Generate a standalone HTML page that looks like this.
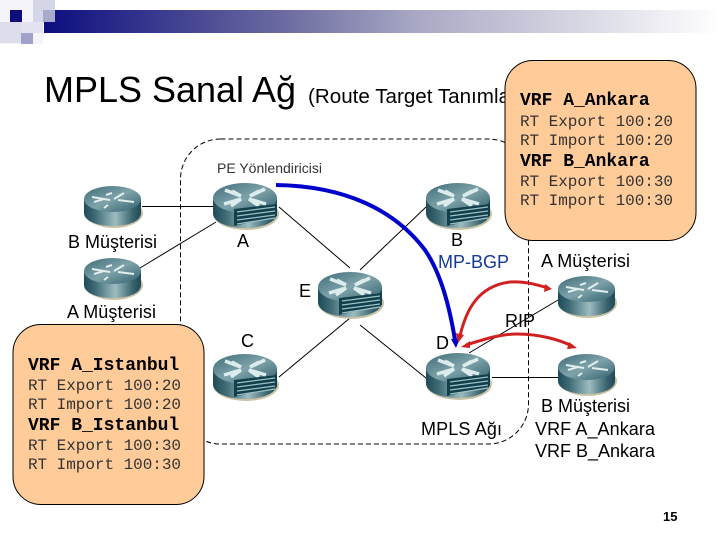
<!DOCTYPE html>
<html><head><meta charset="utf-8"><style>
html,body{margin:0;padding:0;background:#fff}
svg{display:block}
text{font-family:"Liberation Sans",sans-serif;fill:#000}
.m{font-family:"Liberation Mono",monospace;font-size:16px;fill:#333}
.b{font-family:"Liberation Mono",monospace;font-size:18px;font-weight:bold;fill:#000}
.l{font-size:18px}
</style></head><body>
<svg width="720" height="540" viewBox="0 0 720 540" xmlns="http://www.w3.org/2000/svg">
<defs>
<linearGradient id="bar"><stop offset="0" stop-color="#0d0d80"/><stop offset=".35" stop-color="#6a6aa0"/><stop offset=".55" stop-color="#a8a8c4"/><stop offset="1" stop-color="#fff"/></linearGradient>
<linearGradient id="body"><stop offset="0" stop-color="#1f4b58"/><stop offset=".2" stop-color="#3f6b76"/><stop offset=".55" stop-color="#9dbcc0"/><stop offset=".85" stop-color="#3a6570"/><stop offset="1" stop-color="#1e4955"/></linearGradient>
<linearGradient id="top" x1="0" y1="0" x2="1" y2="1"><stop offset="0" stop-color="#3d6b78"/><stop offset=".5" stop-color="#7fa3aa"/><stop offset="1" stop-color="#2f5f6c"/></linearGradient>
<g id="r1">
<ellipse cx="30" cy="27" rx="29" ry="15" fill="#c9c2a4"/>
<path d="M0 13V27C0 35 13 40 29 40S57 35 57 27V13Z" fill="url(#body)"/>
<ellipse cx="28.500" cy="13" rx="28.500" ry="13" fill="url(#top)"/>
<path d="M8 11L26 14M22 9L28 7M40 7L30 13M34 14L50 16M24 19L20 22M10 16L20 13" stroke="#e2eeee" stroke-width="2" fill="none"/>
</g>
<g id="r2">
<ellipse cx="33" cy="31" rx="33" ry="16" fill="#c9c2a4"/>
<path d="M0 15V30C0 39 14 45 32 45S64 39 64 30V15Z" fill="url(#body)"/>
<ellipse cx="32" cy="15" rx="32" ry="15" fill="url(#top)"/>
<path d="M12 7L28 13L19 8M52 6L37 13L46 8M11 21L28 16L18 23M53 21L36 16L46 23" stroke="#dcecec" stroke-width="3.500" fill="none"/>
<path d="M21 26L64 21V33L21 43Z" fill="#123f4e"/>
<path d="M24 29L62 24M24 33L62 28M24 37L62 32M24 41L62 35" stroke="#9cc0c4" stroke-width="1.200"/>
</g>
</defs>

<rect x="44" y="10" width="676" height="23" fill="url(#bar)"/>
<rect x="0" y="0" width="43" height="44" fill="#f4f4fa"/>
<rect x="0" y="22" width="21" height="21" fill="#dddded"/>
<rect x="10" y="10" width="12" height="12" fill="#0d0d80"/>
<rect x="33" y="0" width="22" height="10" fill="#d5d5e8"/>
<rect x="33" y="10" width="10" height="12" fill="#d5d5e8"/>
<rect x="43" y="10" width="12" height="12" fill="#a9a9cc"/>
<rect x="21" y="22" width="22" height="11" fill="#e2e2f0"/>
<rect x="21" y="33" width="12" height="11" fill="#a0a0c8"/>

<text x="44" y="102" font-size="36" textLength="252" lengthAdjust="spacingAndGlyphs">MPLS Sanal Ağ</text>
<text x="308" y="103" font-size="20" textLength="202" lengthAdjust="spacingAndGlyphs">(Route Target Tanımla</text>

<rect x="180.500" y="139" width="348" height="305" rx="40" ry="40" fill="none" stroke="#000" stroke-width="1" stroke-dasharray="5 3"/>

<g stroke="#000" stroke-width="1" fill="none">
<path d="M142 206.500H213M140 268L216 222M279 207L350 268M426 207L360 270M350 318L279 377M360 325L426 378M492 377.500H558M469 353L558 300"/>
</g>

<use href="#r1" x="84" y="186"/>
<use href="#r1" x="84" y="258"/>
<use href="#r2" x="213" y="183"/>
<use href="#r2" x="426" y="183"/>
<use href="#r2" x="318" y="272"/>
<use href="#r2" x="213" y="354"/>
<use href="#r2" x="426" y="353"/>
<use href="#r1" x="558" y="276"/>
<use href="#r1" x="558" y="354"/>

<rect x="505" y="60.500" width="191" height="180" rx="28" fill="#fc9" stroke="#000" stroke-width="1"/>
<rect x="13" y="324.500" width="191" height="180" rx="28" fill="#fc9" stroke="#000" stroke-width="1"/>

<text class="b" x="520" y="105">VRF A_Ankara</text>
<text class="m" x="520" y="126" textLength="153">RT Export 100:20</text>
<text class="m" x="520" y="145" textLength="153">RT Import 100:20</text>
<text class="b" x="520" y="166">VRF B_Ankara</text>
<text class="m" x="520" y="186" textLength="153">RT Export 100:30</text>
<text class="m" x="520" y="205" textLength="153">RT Import 100:30</text>

<text class="b" x="28" y="370">VRF A_Istanbul</text>
<text class="m" x="28" y="390" textLength="153">RT Export 100:20</text>
<text class="m" x="28" y="409" textLength="153">RT Import 100:20</text>
<text class="b" x="28" y="430">VRF B_Istanbul</text>
<text class="m" x="28" y="450" textLength="153">RT Export 100:30</text>
<text class="m" x="28" y="469" textLength="153">RT Import 100:30</text>

<path d="M276 185C345 186 395 210 425 250C442 275 450 310 455 340" fill="none" stroke="#00c" stroke-width="4"/>
<path d="M451 339L460 338L456 348Z" fill="#00c"/>

<path d="M460 336C466 310 478 286 510 282C525 281 538 285 548 288" fill="none" stroke="#d02020" stroke-width="3"/>
<path d="M458 343L456 333L464 335Z" fill="#d02020"/>
<path d="M545 284L552 289L544 292Z" fill="#d02020"/>
<path d="M466 345C485 339 500 334 517 334C540 334 560 340 572 346" fill="none" stroke="#d02020" stroke-width="3"/>
<path d="M461 347L470 341L470 348Z" fill="#d02020"/>
<path d="M569 342L577 348L567 349Z" fill="#d02020"/>

<text x="217" y="173" font-size="14" style="fill:#333" textLength="105">PE Yönlendiricisi</text>
<text class="l" x="68" y="248" textLength="89">B Müşterisi</text>
<text class="l" x="237" y="247">A</text>
<text class="l" x="451" y="246">B</text>
<text class="l" x="438" y="268" textLength="71" style="fill:#113a9a">MP-BGP</text>
<text class="l" x="541" y="267" textLength="89">A Müşterisi</text>
<text class="l" x="299" y="297">E</text>
<text class="l" x="67" y="318" textLength="89">A Müşterisi</text>
<text class="l" x="241" y="347">C</text>
<text class="l" x="436" y="349">D</text>
<text class="l" x="505" y="327" textLength="30">RIP</text>
<text class="l" x="421" y="435" textLength="81">MPLS Ağı</text>
<text class="l" x="541" y="412" textLength="89">B Müşterisi</text>
<text class="l" x="535" y="435" textLength="120">VRF A_Ankara</text>
<text class="l" x="535" y="457" textLength="120">VRF B_Ankara</text>
<text x="663" y="521" font-size="13" font-weight="bold">15</text>
</svg>
</body></html>
